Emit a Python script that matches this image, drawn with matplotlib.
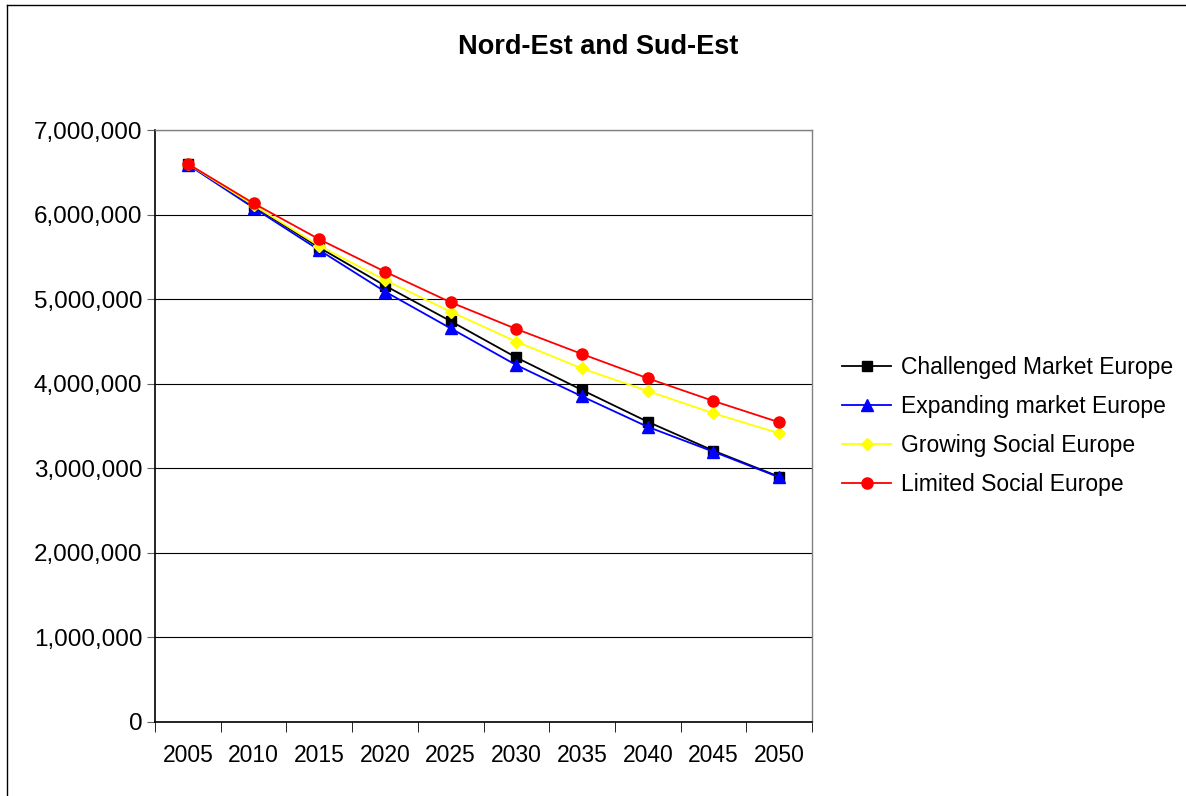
import matplotlib
matplotlib.use('Agg')
import matplotlib.pyplot as plt
from matplotlib.lines import Line2D

plt.rcParams['font.family'] = ['Liberation Sans', 'DejaVu Sans']

# --- DATA ---
years = ['2005', '2010', '2015', '2020', '2025', '2030', '2035', '2040', '2045', '2050']
challenged = [6600000, 6100000, 5610000, 5160000, 4740000, 4310000, 3925000, 3550000, 3208000, 2900000]
expanding = [6590000, 6080000, 5580000, 5090000, 4655000, 4220000, 3850000, 3490000, 3196000, 2894000]
growing = [6600000, 6110000, 5630000, 5226000, 4852000, 4497000, 4180000, 3914000, 3650000, 3414000]
limited = [6600000, 6133000, 5708000, 5325000, 4963000, 4647000, 4351000, 4064000, 3796000, 3544000]

series = [
    ('Challenged Market Europe', challenged, 'black', 's', 7),
    ('Expanding market Europe', expanding, 'blue', '^', 8),
    ('Growing Social Europe', growing, 'yellow', 'D', 6.5),
    ('Limited Social Europe', limited, 'red', 'o', 8),
]

W, H = 1186, 796
fig = plt.figure(figsize=(W / 100, H / 100), dpi=100)
ax = fig.add_axes([155 / W, 1 - 722 / H, (812 - 155) / W, (722 - 130) / H])

x = list(range(len(years)))
for name, vals, col, mk, ms in series:
    ax.plot(x, vals, color=col, marker=mk, markersize=ms, lw=1.3, label=name,
            markeredgecolor=col)

ax.set_xlim(-0.5, len(years) - 0.5)
ax.set_ylim(0, 7000000)
ax.set_yticks(range(0, 7000001, 1000000))
ax.set_yticklabels([f'{v:,}' for v in range(0, 7000001, 1000000)], fontsize=17.5)
ax.set_xticks(x)
ax.set_xticklabels(years, fontsize=16.5)
ax.set_xticks([i - 0.5 for i in range(len(years) + 1)], minor=True)
ax.tick_params(axis='x', which='major', length=0, pad=16)
ax.tick_params(axis='x', which='minor', length=7, color='black', direction='out')
ax.tick_params(axis='y', length=6, color='#606060', direction='out', pad=3)

ax.yaxis.grid(True, color='black', lw=0.8)
ax.set_axisbelow(True)
for side in ['top', 'right']:
    ax.spines[side].set_color('#808080')
    ax.spines[side].set_linewidth(1)
for side in ['left', 'bottom']:
    ax.spines[side].set_color('black')
    ax.spines[side].set_linewidth(1.2)

fig.text(598 / W, 1 - 47 / H, 'Nord-Est and Sud-Est', fontsize=19.5, fontweight='bold',
         ha='center', va='center')

ax.legend(loc='center left', bbox_to_anchor=(1.015, 0.5), frameon=False, fontsize=16.5,
          handlelength=2.1, labelspacing=0.7, handletextpad=0.45)

# chart border (only left and top edges visible)
fig.add_artist(Line2D([6.5 / W, 6.5 / W], [0, 1 - 5 / H], color='black', lw=1))
fig.add_artist(Line2D([6.5 / W, 1], [1 - 5 / H, 1 - 5 / H], color='black', lw=1))

fig.savefig('out.png', dpi=100)
